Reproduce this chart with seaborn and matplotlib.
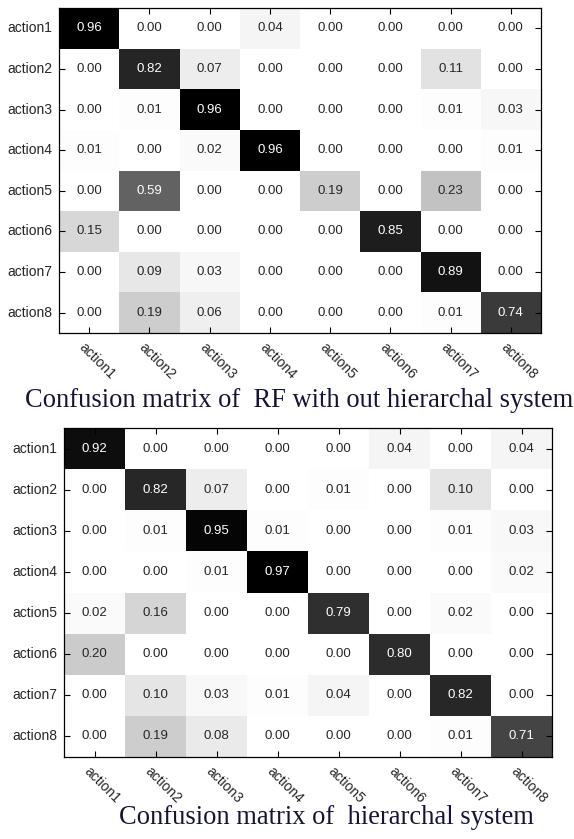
import numpy as np
import pandas as pd
import matplotlib
matplotlib.use("Agg")
import matplotlib.pyplot as plt
from matplotlib.colors import LinearSegmentedColormap
from matplotlib.transforms import ScaledTranslation
import seaborn as sns

actions = ["action1", "action2", "action3", "action4",
           "action5", "action6", "action7", "action8"]

rf_rows = [
    [0.96, 0.00, 0.00, 0.04, 0.00, 0.00, 0.00, 0.00],
    [0.00, 0.82, 0.07, 0.00, 0.00, 0.00, 0.11, 0.00],
    [0.00, 0.01, 0.96, 0.00, 0.00, 0.00, 0.01, 0.03],
    [0.01, 0.00, 0.02, 0.96, 0.00, 0.00, 0.00, 0.01],
    [0.00, 0.59, 0.00, 0.00, 0.19, 0.00, 0.23, 0.00],
    [0.15, 0.00, 0.00, 0.00, 0.00, 0.85, 0.00, 0.00],
    [0.00, 0.09, 0.03, 0.00, 0.00, 0.00, 0.89, 0.00],
    [0.00, 0.19, 0.06, 0.00, 0.00, 0.00, 0.01, 0.74],
]

hier_rows = [
    [0.92, 0.00, 0.00, 0.00, 0.00, 0.04, 0.00, 0.04],
    [0.00, 0.82, 0.07, 0.00, 0.01, 0.00, 0.10, 0.00],
    [0.00, 0.01, 0.95, 0.01, 0.00, 0.00, 0.01, 0.03],
    [0.00, 0.00, 0.01, 0.97, 0.00, 0.00, 0.00, 0.02],
    [0.02, 0.16, 0.00, 0.00, 0.79, 0.00, 0.02, 0.00],
    [0.20, 0.00, 0.00, 0.00, 0.00, 0.80, 0.00, 0.00],
    [0.00, 0.10, 0.03, 0.01, 0.04, 0.00, 0.82, 0.00],
    [0.00, 0.19, 0.08, 0.00, 0.00, 0.00, 0.01, 0.71],
]

captions = ["Confusion matrix of  RF with out hierarchal system",
            "Confusion matrix of  hierarchal system"]

sns.set_style("white")
plt.rcParams["font.family"] = ["Liberation Sans", "DejaVu Sans"]

W, H = 574, 839
fig = plt.figure(figsize=(W / 100, H / 100), dpi=100)

cmap = LinearSegmentedColormap.from_list("wb", ["#ffffff", "#000000"])


def px_axes(l, t, r, b):
    return fig.add_axes([l / W, 1 - b / H, (r - l) / W, (b - t) / H])


def draw(ax, rows):
    df = pd.DataFrame(rows, index=actions, columns=actions)
    sns.heatmap(df, ax=ax, cmap=cmap, vmin=0, vmax=float(np.max(rows)),
                annot=True, fmt=".2f", cbar=False, linewidths=0,
                annot_kws={"fontsize": 9.5})
    ax.set_axisbelow(False)
    for s in ax.spines.values():
        s.set_visible(True)
        s.set_color("black")
        s.set_linewidth(0.9)
        s.set_zorder(5)
    ax.tick_params(axis="both", which="major", direction="in", length=4.5,
                   width=0.8, color="black", labelsize=10, pad=5,
                   top=True, right=True, bottom=True, left=True,
                   labeltop=False, labelright=False)
    ax.set_xlabel("")
    ax.set_ylabel("")
    ax.set_yticklabels(actions, rotation=0, va="center")
    ax.set_xticklabels(actions, rotation=-45, ha="center", va="top")
    off = ScaledTranslation(8 / 100, 0, fig.dpi_scale_trans)
    for lab in ax.get_xticklabels():
        lab.set_transform(lab.get_transform() + off)


ax1 = px_axes(59, 8, 541, 333)
draw(ax1, rf_rows)
ax2 = px_axes(64, 428, 552, 757)
draw(ax2, hier_rows)

cap_color = "#141438"
fig.text(299 / W, 1 - 407 / H, captions[0], family="Liberation Serif",
         fontsize=19.1, color=cap_color, ha="center", va="baseline")
fig.text(326.5 / W, 1 - 824 / H, captions[1], family="Liberation Serif",
         fontsize=19.1, color=cap_color, ha="center", va="baseline")

fig.savefig("out.png", dpi=100)
